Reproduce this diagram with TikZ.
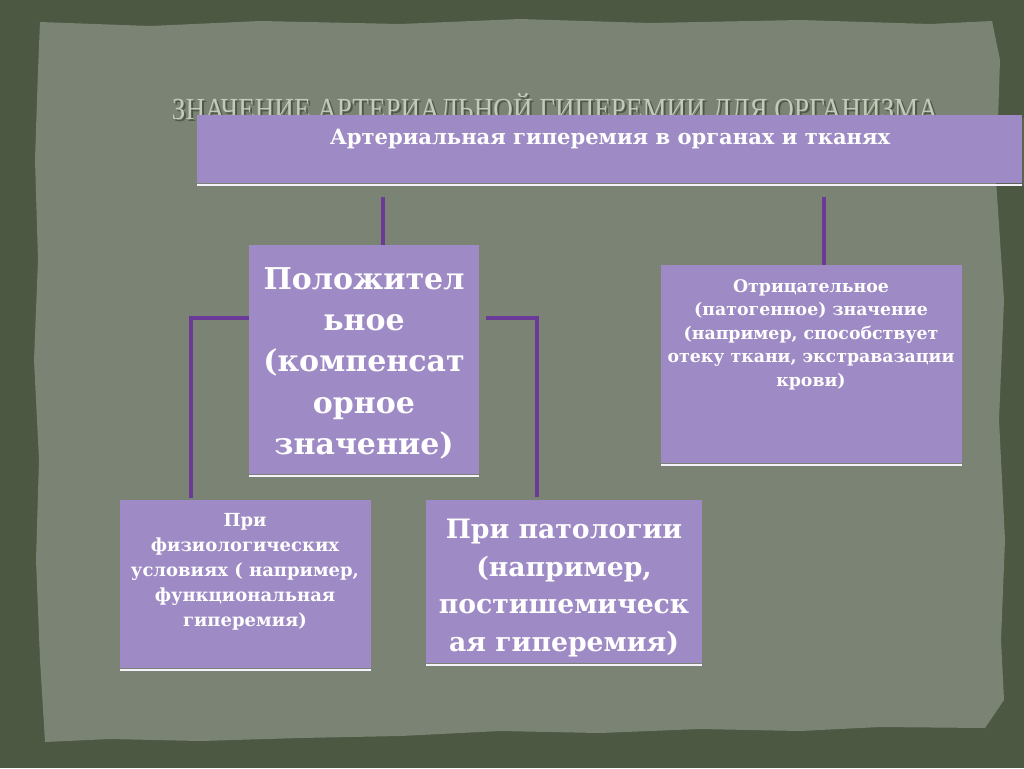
\documentclass[tikz,border=0pt]{standalone}
\usepackage{fontspec}
\setmainfont{DejaVu Serif}
\newfontfamily\titlefont{Liberation Serif}
\usetikzlibrary{calc,shadows}
\definecolor{outerbg}{HTML}{4C5842}
\definecolor{paper}{HTML}{7B8474}
\definecolor{boxfill}{HTML}{9E8AC4}
\definecolor{conncol}{HTML}{6A3A98}
\definecolor{titlecol}{HTML}{C3CABB}
\definecolor{titleshade}{HTML}{4E5846}
\begin{document}
\begin{tikzpicture}[x=0.75pt,y=-0.75pt,
  box/.style={fill=boxfill, inner sep=0pt, outer sep=0pt, anchor=north west,
    drop shadow={opacity=0.3, shadow xshift=2pt, shadow yshift=-2pt}},
  txt/.style={text=white, font=\bfseries, align=center, inner sep=0pt, anchor=north},
  conn/.style={draw=conncol, line width=3pt},
  hl/.style={draw=white!90!boxfill, line width=1.5pt},
  ttl/.style={font=\titlefont\fontsize{23}{26}\selectfont, anchor=base, inner sep=0pt, xscale=0.885, transform shape},
]
\useasboundingbox (0,0) rectangle (1024,768);
\fill[outerbg] (0,0) rectangle (1024,768);
\fill[paper] (40,22) -- (150,26) -- (260,21) -- (400,24) -- (520,19) -- (650,23) -- (800,20) -- (930,24) -- (992,21)
  -- (1000,60) -- (996,180) -- (1004,300) -- (999,420) -- (1005,540) -- (1001,640) -- (1004,700) -- (985,728)
  -- (880,727) -- (800,731) -- (700,729) -- (600,733) -- (500,731) -- (400,736) -- (300,738) -- (200,741) -- (110,739) -- (45,742)
  -- (40,660) -- (36,560) -- (39,460) -- (34,360) -- (38,260) -- (35,160) -- (38,70) -- cycle;

% title (partly hidden)
\node[ttl, text=titleshade] (titleS) at (557,121) {ЗНАЧЕНИЕ АРТЕРИАЛЬНОЙ ГИПЕРЕМИИ ДЛЯ ОРГАНИЗМА};
\node[ttl, text=titlecol] (title) at (555,119) {ЗНАЧЕНИЕ АРТЕРИАЛЬНОЙ ГИПЕРЕМИИ ДЛЯ ОРГАНИЗМА};

% boxes
\node[box, minimum width=618.75pt, minimum height=51pt] (top) at (197,115) {};
\node[box, minimum width=172.5pt, minimum height=171.75pt] (pos) at (249,245) {};
\node[box, minimum width=225.75pt, minimum height=148.5pt] (neg) at (661,265) {};
\node[box, minimum width=188.25pt, minimum height=126pt] (phys) at (120,500) {};
\node[box, minimum width=207pt, minimum height=122.25pt] (path) at (426,500) {};

\foreach \b in {top,pos,neg,phys,path}{
  \draw[hl] ($(\b.south west)+(0,2)$) -- ($(\b.south east)+(0,2)$);
}

% texts
\node[txt, font=\bfseries\fontsize{15.8}{20}\selectfont] (topT) at (610,129) {Артериальная гиперемия в органах и тканях};
\node[txt, font=\bfseries\fontsize{22.5}{31}\selectfont] (posT) at (364,267) {Положител\\ьное\\(компенсат\\орное\\значение)};
\node[txt, font=\bfseries\fontsize{13}{17.6}\selectfont] (negT) at (811,279) {Отрицательное\\(патогенное) значение\\(например, способствует\\отеку ткани, экстравазации\\крови)};
\node[txt, font=\bfseries\fontsize{13.5}{18.75}\selectfont] (physT) at (245,513) {При\\физиологических\\условиях ( например,\\функциональная\\гиперемия)};
\node[txt, font=\bfseries\fontsize{20}{28.2}\selectfont] (pathT) at (564,519) {При патологии\\(например,\\постишемическ\\ая гиперемия)};

% connectors
\draw[conn] ($(pos.north west)+(134,0)$) -- ++(0,-48);
\draw[conn] ($(neg.north west)+(163,0)$) -- ++(0,-68);
\draw[conn] ($(pos.north west)+(0,73)$) -| ($(phys.north west)+(71,-2)$);
\draw[conn] ($(pos.north east)+(7,73)$) -| ($(path.north west)+(111,-3)$);
\end{tikzpicture}
\end{document}
